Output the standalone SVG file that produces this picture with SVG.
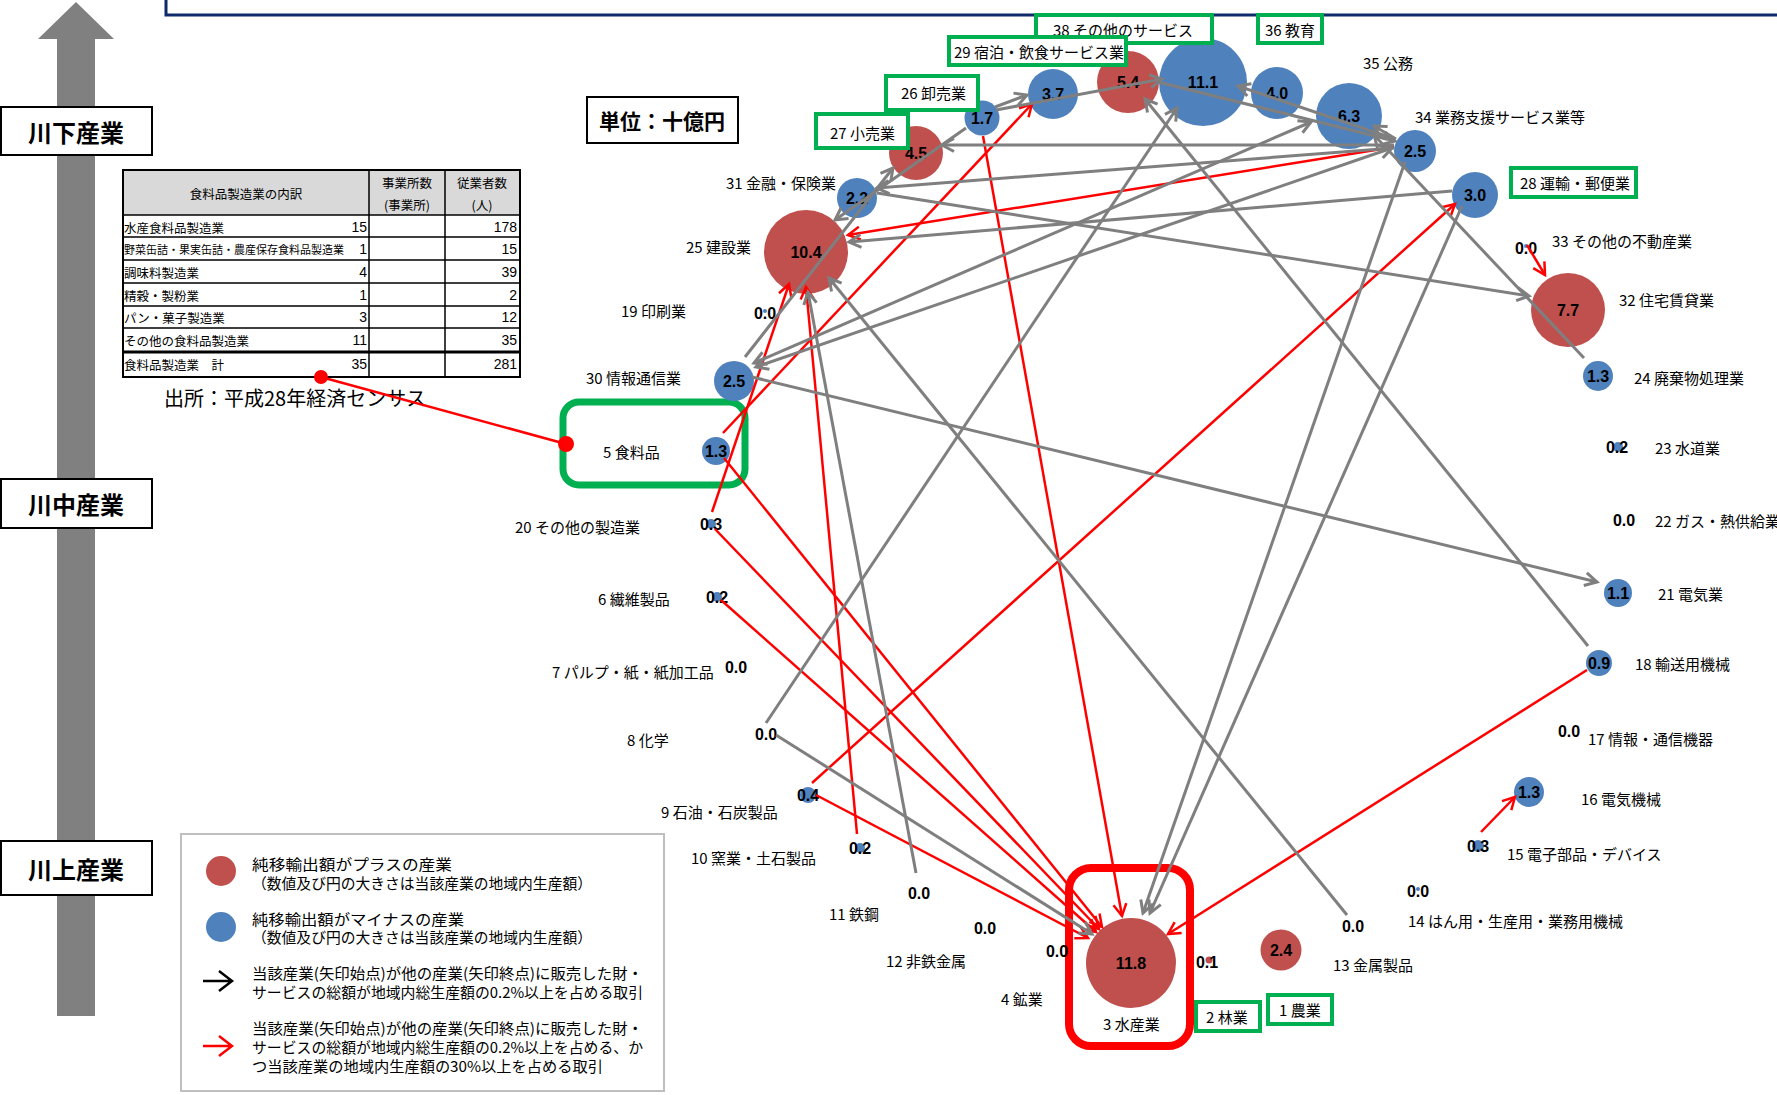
<svg xmlns="http://www.w3.org/2000/svg" width="1777" height="1095" viewBox="0 0 1777 1095">
<style>
.lbl{font-family:"Noto Sans CJK JP","Noto Sans",sans-serif;font-size:15px;fill:#000;dominant-baseline:central}
.tb{font-family:"Noto Sans CJK JP","Noto Sans",sans-serif;font-size:12.5px;fill:#000;dominant-baseline:central}
.tn{font-family:"Liberation Sans",Arial,sans-serif;font-size:14px;fill:#000;dominant-baseline:central;text-anchor:end}
.lg{font-family:"Noto Sans CJK JP","Noto Sans",sans-serif;font-size:15px;fill:#000;dominant-baseline:central}
.val{font-family:"Liberation Sans",Arial,sans-serif;font-weight:bold;font-size:16px;fill:#000;text-anchor:middle;dominant-baseline:central}
.big{font-family:"Noto Sans CJK JP",sans-serif;font-weight:bold;font-size:24px;fill:#000;text-anchor:middle;dominant-baseline:central}
.pos{fill:#C0504D}
.neg{fill:#4F81BD}
.gbox{fill:#fff;stroke:#00B050;stroke-width:4}
.side{fill:#fff;stroke:#000;stroke-width:2}
.g{stroke:#7F7F7F;stroke-width:3;fill:none;marker-end:url(#ag)}
.gg{stroke:#7F7F7F;stroke-width:3;fill:none;marker-end:url(#ag);marker-start:url(#ag)}
.r{stroke:#FF0000;stroke-width:2.5;fill:none;marker-end:url(#ar)}
.tl{stroke:#000;stroke-width:1.5;fill:none}
</style>
<defs>
<marker id="ag" viewBox="-16 -10 20 20" refX="0" refY="0" markerWidth="20" markerHeight="20" markerUnits="userSpaceOnUse" orient="auto-start-reverse"><path d="M-12,-6.5 L0,0 L-12,6.5" fill="none" stroke="#7F7F7F" stroke-width="3"/></marker>
<marker id="ar" viewBox="-16 -10 20 20" refX="0" refY="0" markerWidth="20" markerHeight="20" markerUnits="userSpaceOnUse" orient="auto-start-reverse"><path d="M-12,-6.5 L0,0 L-12,6.5" fill="none" stroke="#FF0000" stroke-width="2.5"/></marker>
</defs>
<rect width="1777" height="1095" fill="#fff"/>

<!-- top frame -->
<path d="M166,0 V15 H1777" fill="none" stroke="#0E2A6B" stroke-width="3"/>

<!-- flow arrow -->
<g id="flow-arrow">
<polygon points="76,2 114,39 95,39 95,1016 57,1016 57,39 38,39" fill="#808080"/>
<rect class="side" x="1" y="107" width="151" height="48"/>
<text class="big" x="76" y="131">川下産業</text>
<rect class="side" x="1" y="479" width="151" height="49"/>
<text class="big" x="76" y="503">川中産業</text>
<rect class="side" x="1" y="841" width="151" height="54"/>
<text class="big" x="76" y="868">川上産業</text>
</g>

<!-- unit -->
<g id="unit">
<rect x="587" y="97" width="151" height="46" fill="#fff" stroke="#000" stroke-width="2"/>
<text x="662" y="120" style="font-family:'Noto Sans CJK JP',sans-serif;font-weight:bold;font-size:21px;text-anchor:middle;dominant-baseline:central">単位：十億円</text>
</g>

<!-- table -->
<g id="table">
<rect x="123" y="170" width="397" height="45" fill="#D9D9D9"/>
<rect x="123" y="170" width="397" height="207" fill="none" stroke="#000" stroke-width="2"/>
<path class="tl" d="M369,170 V377 M445,170 V377 M123,215 H520 M123,237 H520 M123,260 H520 M123,283 H520 M123,306 H520 M123,328 H520 M123,377 H520"/>
<path d="M123,352 H520" stroke="#000" stroke-width="3"/>
<text class="tb" x="246" y="193" text-anchor="middle">食料品製造業の内訳</text>
<text class="tb" x="407" y="182" text-anchor="middle">事業所数</text>
<text class="tb" x="407" y="204" text-anchor="middle">(事業所)</text>
<text class="tb" x="482" y="182" text-anchor="middle">従業者数</text>
<text class="tb" x="482" y="204" text-anchor="middle">(人)</text>
<text class="tb" x="124" y="227">水産食料品製造業</text>
<text class="tb" x="124" y="249" style="font-size:11px">野菜缶詰・果実缶詰・農産保存食料品製造業</text>
<text class="tb" x="124" y="272">調味料製造業</text>
<text class="tb" x="124" y="295">精穀・製粉業</text>
<text class="tb" x="124" y="317">パン・菓子製造業</text>
<text class="tb" x="124" y="340">その他の食料品製造業</text>
<text class="tb" x="124" y="364">食料品製造業　計</text>
<text class="tn" x="367" y="227">15</text><text class="tn" x="517" y="227">178</text>
<text class="tn" x="367" y="249">1</text><text class="tn" x="517" y="249">15</text>
<text class="tn" x="367" y="272">4</text><text class="tn" x="517" y="272">39</text>
<text class="tn" x="367" y="295">1</text><text class="tn" x="517" y="295">2</text>
<text class="tn" x="367" y="317">3</text><text class="tn" x="517" y="317">12</text>
<text class="tn" x="367" y="340">11</text><text class="tn" x="517" y="340">35</text>
<text class="tn" x="367" y="364">35</text><text class="tn" x="517" y="364">281</text>
<text x="164" y="397" style="font-family:'Noto Sans CJK JP',sans-serif;font-size:20px;dominant-baseline:central">出所：平成28年経済センサス</text>
</g>

<!-- legend -->
<g id="legend">
<rect x="181" y="834" width="483" height="257" fill="#fff" stroke="#BFBFBF" stroke-width="2"/>
<circle class="pos" cx="221" cy="871" r="15"/>
<circle class="neg" cx="221" cy="927" r="15"/>
<path d="M203,981 H231 M219,971 L232,981 L219,991" fill="none" stroke="#000" stroke-width="2.5"/>
<path d="M203,1046 H231 M219,1036 L232,1046 L219,1056" fill="none" stroke="#FF0000" stroke-width="2.5"/>
<text class="lg" x="252" y="863" textLength="200" lengthAdjust="spacingAndGlyphs">純移輸出額がプラスの産業</text>
<text class="lg" x="252" y="882" textLength="340" lengthAdjust="spacingAndGlyphs">（数値及び円の大きさは当該産業の地域内生産額）</text>
<text class="lg" x="252" y="918" textLength="212" lengthAdjust="spacingAndGlyphs">純移輸出額がマイナスの産業</text>
<text class="lg" x="252" y="936" textLength="340" lengthAdjust="spacingAndGlyphs">（数値及び円の大きさは当該産業の地域内生産額）</text>
<text class="lg" x="252" y="972" textLength="391" lengthAdjust="spacingAndGlyphs">当該産業(矢印始点)が他の産業(矢印終点)に販売した財・</text>
<text class="lg" x="252" y="991" textLength="391" lengthAdjust="spacingAndGlyphs">サービスの総額が地域内総生産額の0.2%以上を占める取引</text>
<text class="lg" x="252" y="1027" textLength="391" lengthAdjust="spacingAndGlyphs">当該産業(矢印始点)が他の産業(矢印終点)に販売した財・</text>
<text class="lg" x="252" y="1046" textLength="391" lengthAdjust="spacingAndGlyphs">サービスの総額が地域内総生産額の0.2%以上を占める、か</text>
<text class="lg" x="252" y="1065" textLength="351" lengthAdjust="spacingAndGlyphs">つ当該産業の地域内生産額の30%以上を占める取引</text>
</g>

<!-- nodes -->
<g id="n37"><circle class="neg" cx="1203" cy="82" r="44"/><text class="val" x="1203" y="82">11.1</text></g>
<g id="n38"><circle class="pos" cx="1128" cy="82" r="31"/><text class="val" x="1128" y="82">5.4</text><rect class="gbox" x="1036" y="15" width="176" height="28"/><text class="lbl" x="1053" y="29">38 その他のサービス</text></g>
<g id="n29"><circle class="neg" cx="1053" cy="94" r="25"/><text class="val" x="1053" y="94">3.7</text><rect class="gbox" x="949" y="37" width="177" height="28"/><text class="lbl" x="954" y="51">29 宿泊・飲食サービス業</text></g>
<g id="n36"><circle class="neg" cx="1277" cy="93" r="26"/><text class="val" x="1277" y="93">4.0</text><rect class="gbox" x="1258" y="15" width="64" height="28"/><text class="lbl" x="1265" y="29">36 教育</text></g>
<g id="n35"><circle class="neg" cx="1349" cy="116" r="33"/><text class="val" x="1349" y="116">6.3</text><text class="lbl" x="1363" y="62">35 公務</text></g>
<g id="n34"><circle class="neg" cx="1415" cy="151" r="21"/><text class="val" x="1415" y="151">2.5</text><text class="lbl" x="1415" y="116">34 業務支援サービス業等</text></g>
<g id="n28"><circle class="neg" cx="1475" cy="195" r="23"/><text class="val" x="1475" y="195">3.0</text><rect class="gbox" x="1511" y="168" width="125" height="29"/><text class="lbl" x="1520" y="182">28 運輸・郵便業</text></g>
<g id="n33"><circle class="neg" cx="1526" cy="246" r="2"/><text class="val" x="1526" y="248">0.0</text><text class="lbl" x="1552" y="240">33 その他の不動産業</text></g>
<g id="n32"><circle class="pos" cx="1568" cy="310" r="37"/><text class="val" x="1568" y="310">7.7</text><text class="lbl" x="1619" y="299">32 住宅賃貸業</text></g>
<g id="n24"><circle class="neg" cx="1598" cy="376" r="15"/><text class="val" x="1598" y="376">1.3</text><text class="lbl" x="1634" y="377">24 廃棄物処理業</text></g>
<g id="n23"><circle class="neg" cx="1618" cy="447" r="5"/><text class="val" x="1617" y="447">0.2</text><text class="lbl" x="1655" y="447">23 水道業</text></g>
<g id="n22"><text class="val" x="1624" y="520">0.0</text><text class="lbl" x="1655" y="520">22 ガス・熱供給業</text></g>
<g id="n21"><circle class="neg" cx="1618" cy="593" r="14"/><text class="val" x="1618" y="593">1.1</text><text class="lbl" x="1658" y="593">21 電気業</text></g>
<g id="n18"><circle class="neg" cx="1599" cy="663" r="13"/><text class="val" x="1599" y="663">0.9</text><text class="lbl" x="1635" y="663">18 輸送用機械</text></g>
<g id="n17"><text class="val" x="1569" y="731">0.0</text><text class="lbl" x="1588" y="738">17 情報・通信機器</text></g>
<g id="n16"><circle class="neg" cx="1529" cy="792" r="15"/><text class="val" x="1529" y="792">1.3</text><text class="lbl" x="1581" y="798">16 電気機械</text></g>
<g id="n15"><circle class="neg" cx="1478" cy="846" r="6"/><text class="val" x="1478" y="846">0.3</text><text class="lbl" x="1507" y="853">15 電子部品・デバイス</text></g>
<g id="n14"><circle class="neg" cx="1418" cy="889" r="2"/><text class="val" x="1418" y="891">0.0</text><text class="lbl" x="1408" y="920">14 はん用・生産用・業務用機械</text></g>
<g id="n13"><text class="val" x="1353" y="926">0.0</text><text class="lbl" x="1333" y="964">13 金属製品</text></g>
<g id="n1"><circle class="pos" cx="1281" cy="950" r="20.5"/><text class="val" x="1281" y="950">2.4</text><rect class="gbox" x="1268" y="995" width="64" height="29"/><text class="lbl" x="1279" y="1009">1 農業</text></g>
<g id="n2"><circle class="pos" cx="1209" cy="960" r="3.5"/><text class="val" x="1207" y="962">0.1</text><rect class="gbox" x="1196" y="1002" width="64" height="29"/><text class="lbl" x="1206" y="1016">2 林業</text></g>
<g id="n3"><circle class="pos" cx="1131" cy="963" r="45"/><text class="val" x="1131" y="963">11.8</text><text class="lbl" x="1103" y="1023">3 水産業</text><rect x="1069" y="868" width="121" height="178" rx="22" fill="none" stroke="#FF0000" stroke-width="8"/></g>
<g id="n4"><text class="val" x="1057" y="951">0.0</text><text class="lbl" x="1001" y="998">4 鉱業</text></g>
<g id="n12"><text class="val" x="985" y="928">0.0</text><text class="lbl" x="886" y="960">12 非鉄金属</text></g>
<g id="n11"><text class="val" x="919" y="893">0.0</text><text class="lbl" x="829" y="913">11 鉄鋼</text></g>
<g id="n10"><circle class="neg" cx="860" cy="848" r="5"/><text class="val" x="860" y="848">0.2</text><text class="lbl" x="691" y="857">10 窯業・土石製品</text></g>
<g id="n9"><circle class="neg" cx="808" cy="795" r="8"/><text class="val" x="808" y="795">0.4</text><text class="lbl" x="661" y="811">9 石油・石炭製品</text></g>
<g id="n8"><text class="val" x="766" y="734">0.0</text><text class="lbl" x="627" y="739">8 化学</text></g>
<g id="n7"><text class="val" x="736" y="667">0.0</text><text class="lbl" x="552" y="671">7 パルプ・紙・紙加工品</text></g>
<g id="n6"><circle class="neg" cx="717" cy="597" r="5"/><text class="val" x="717" y="597">0.2</text><text class="lbl" x="598" y="598">6 繊維製品</text></g>
<g id="n20"><circle class="neg" cx="711" cy="524" r="5"/><text class="val" x="711" y="524">0.3</text><text class="lbl" x="515" y="526">20 その他の製造業</text></g>
<g id="n5"><circle class="neg" cx="716" cy="451" r="14"/><text class="val" x="716" y="451">1.3</text><text class="lbl" x="603" y="451">5 食料品</text><rect x="563" y="402" width="182" height="83" rx="16" fill="none" stroke="#00B050" stroke-width="7"/></g>
<g id="n30"><circle class="neg" cx="734" cy="381" r="20"/><text class="val" x="734" y="381">2.5</text><text class="lbl" x="586" y="377">30 情報通信業</text></g>
<g id="n19"><circle class="neg" cx="765" cy="311" r="2"/><text class="val" x="765" y="313">0.0</text><text class="lbl" x="621" y="310">19 印刷業</text></g>
<g id="n25"><circle class="pos" cx="806" cy="252" r="42"/><text class="val" x="806" y="252">10.4</text><text class="lbl" x="686" y="246">25 建設業</text></g>
<g id="n31"><circle class="neg" cx="857" cy="198" r="20"/><text class="val" x="857" y="198">2.2</text><text class="lbl" x="726" y="182">31 金融・保険業</text></g>
<g id="n27"><circle class="pos" cx="916" cy="153" r="27"/><text class="val" x="916" y="153">4.5</text><rect class="gbox" x="816" y="114" width="92" height="34"/><text class="lbl" x="830" y="132">27 小売業</text></g>
<g id="n26"><circle class="neg" cx="982" cy="118" r="17.5"/><text class="val" x="982" y="118">1.7</text><rect class="gbox" x="886" y="76" width="92" height="34"/><text class="lbl" x="901" y="92">26 卸売業</text></g>

<!-- connectors -->
<g id="connectors">
<path d="M321,377 L566,444" stroke="#FF0000" stroke-width="2.5" fill="none"/>
<circle cx="321" cy="377" r="7" fill="#FF0000"/>
<circle cx="566" cy="444" r="8" fill="#FF0000"/>
<path class="r" d="M712,512 L789,284"/>
<path class="r" d="M723,433 L1032,104"/>
<path class="r" d="M857,834 L806,287"/>
<path class="r" d="M983,136 L1122,916"/>
<path class="r" d="M1394,147 L848,235"/>
<path class="r" d="M812,783 L1455,204"/>
<path class="r" d="M816,795 L1088,938"/>
<path class="r" d="M721,600 L1096,932"/>
<path class="r" d="M715,529 L1099,929"/>
<path class="r" d="M724,458 L1102,927"/>
<path class="r" d="M1587,670 L1168,934"/>
<path class="r" d="M1527,245 L1545,275"/>
<path class="r" d="M1481,832 L1515,797"/>
<path class="g" d="M995,107 L1027,95"/>
<path class="g" d="M996,110 L1162,79"/>
<path class="g" d="M966,128 L835,220"/>
<path class="g" d="M745,357 L893,168"/>
<path class="gg" d="M756,367 L1392,148"/>
<path class="gg" d="M754,363 L1311,122"/>
<path class="g" d="M1394,145 L942,145"/>
<path class="g" d="M1394,148 L877,188"/>
<path class="g" d="M877,193 L1529,296"/>
<path class="g" d="M1452,191 L849,242"/>
<path class="g" d="M1347,915 L829,278"/>
<path class="g" d="M916,873 L808,292"/>
<path class="g" d="M766,723 L1177,108"/>
<path class="g" d="M776,735 L1092,934"/>
<path class="g" d="M1405,162 L1143,913"/>
<path class="g" d="M1462,206 L1150,913"/>
<path class="g" d="M752,377 L1597,582"/>
<path class="g" d="M1588,646 L1145,99"/>
<path class="g" d="M1584,358 L1374,135"/>
<path class="g" d="M1396,139 L1374,126"/>
<path class="g" d="M1395,139 L1238,86"/>
<path class="g" d="M1158,82 L1395,141"/>
</g>
</svg>
